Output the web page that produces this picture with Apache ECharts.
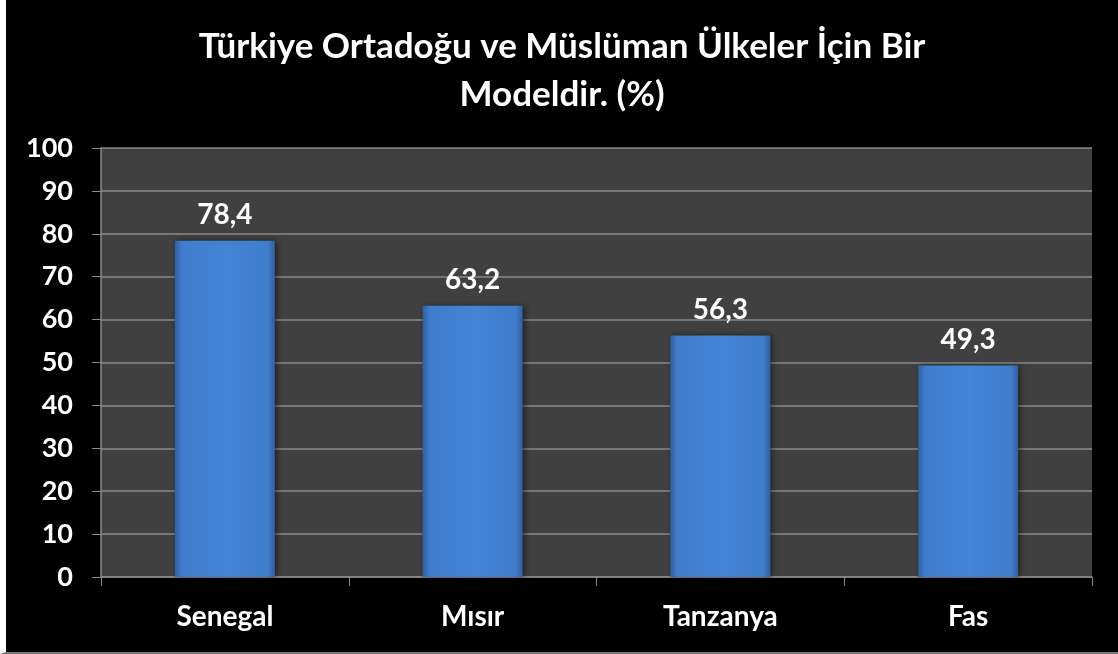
<!DOCTYPE html>
<html>
<head>
<meta charset="utf-8">
<script src="https://cdn.jsdelivr.net/npm/echarts@6/dist/echarts.min.js"></script>
<style>
  html, body { margin: 0; padding: 0; background: #000; }
  #wrap { position: absolute; left: 0; top: 0; width: 1112px; height: 652px; border-left: 6px solid #fff; border-bottom: 2px solid #777; background: #000; }
  #main { width: 1112px; height: 652px; }
</style>
</head>
<body>
<div id="wrap"><div id="main"></div></div>
<script>
// ülkeler ve yüzdeler
var categories = ['Senegal', 'Mısır', 'Tanzanya', 'Fas']
var values = [78.4, 63.2, 56.3, 49.3]
var yTicks = { min: 0, max: 100, interval: 10 }

var chart = echarts.init(document.getElementById('main'))
var font = 'Lato, "Open Sans", sans-serif'

var option = {
  backgroundColor: '#000',
  title: {
    text: 'Türkiye Ortadoğu ve Müslüman Ülkeler İçin Bir\nModeldir. (%)',
    left: 'center',
    top: 18,
    textStyle: {
      color: '#fff',
      fontFamily: font,
      fontWeight: 'bold',
      fontSize: 35,
      lineHeight: 48
    }
  },
  grid: {
    left: 95,
    right: 26,
    top: 148,
    bottom: 75,
    show: true,
    backgroundColor: '#404040',
    borderWidth: 0
  },
  xAxis: {
    type: 'category',
    data: categories,
    axisLine: { lineStyle: { color: '#8a8a8a', width: 1.5 } },
    axisTick: { show: true, length: 9, lineStyle: { color: '#8a8a8a' } },
    axisLabel: {
      color: '#fff',
      fontFamily: font,
      fontWeight: 'bold',
      fontSize: 28,
      margin: 26
    }
  },
  yAxis: {
    type: 'value',
    min: yTicks.min,
    max: yTicks.max,
    interval: yTicks.interval,
    axisLine: { show: true, lineStyle: { color: '#8a8a8a', width: 1.5 } },
    axisTick: { show: true, length: 9, lineStyle: { color: '#8a8a8a' } },
    axisLabel: {
      color: '#fff',
      fontFamily: font,
      fontWeight: 'bold',
      fontSize: 27,
      margin: 28
    },
    splitLine: { lineStyle: { color: '#8a8a8a', width: 1.5 } }
  },
  series: [
    {
      type: 'bar',
      data: values,
      barWidth: 100,
      itemStyle: {
        color: new echarts.graphic.LinearGradient(0, 0, 1, 0, [
          { offset: 0, color: '#2f5f9f' },
          { offset: 0.07, color: '#3f7ccc' },
          { offset: 0.5, color: '#4384d6' },
          { offset: 0.93, color: '#3f7ccc' },
          { offset: 1, color: '#2f5f9f' }
        ]),
        shadowColor: 'rgba(0,0,0,0.5)',
        shadowBlur: 6,
        shadowOffsetX: 2
      },
      label: {
        show: true,
        position: 'top',
        distance: 12,
        color: '#fff',
        fontFamily: font,
        fontWeight: 'bold',
        fontSize: 28,
        formatter: function (p) { return String(p.value).replace('.', ',') }
      }
    }
  ]
}

chart.setOption(option)
</script>
</body>
</html>
